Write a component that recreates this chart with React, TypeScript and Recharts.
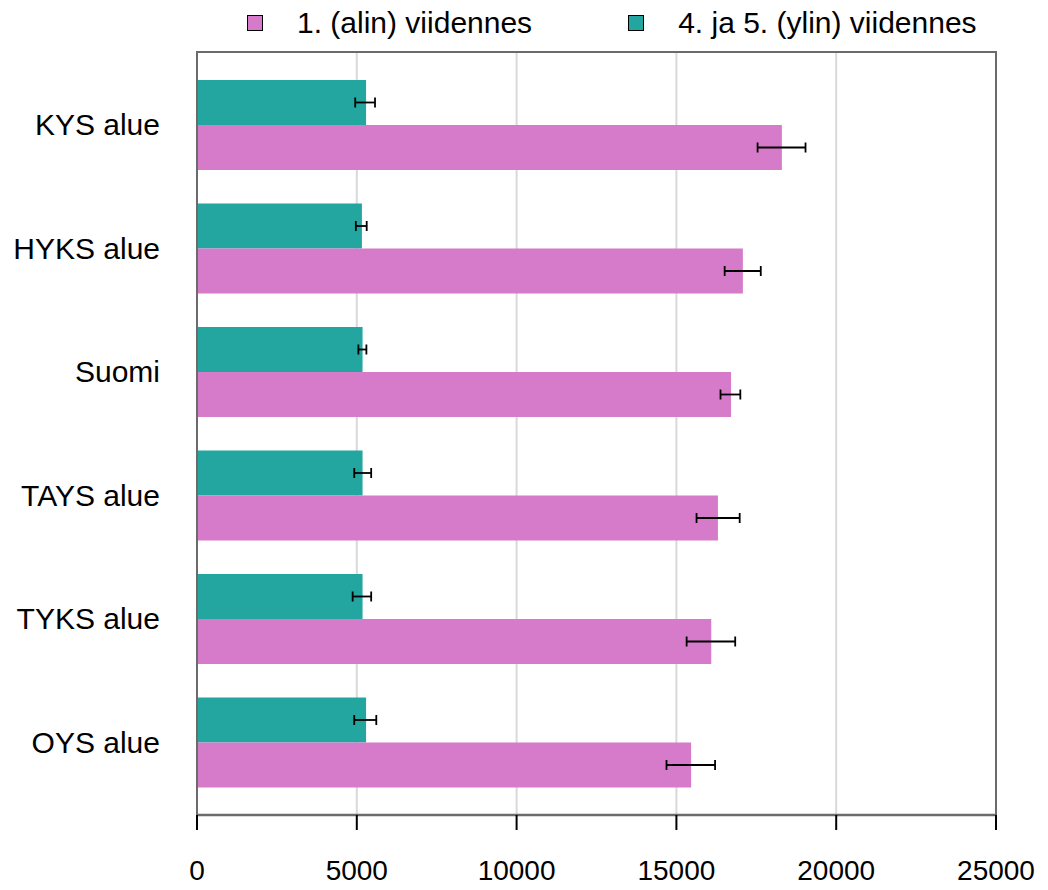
import React from 'react';
import { BarChart, Bar, XAxis, YAxis, CartesianGrid, ErrorBar } from 'recharts';

const regions = ['KYS alue', 'HYKS alue', 'Suomi', 'TAYS alue', 'TYKS alue', 'OYS alue'];

// 1. (alin) viidennes
const lowest = [18300, 17080, 16710, 16300, 16090, 15460];
const lowestLo = [17540, 16510, 16380, 15630, 15320, 14690];
const lowestHi = [19040, 17640, 17000, 16980, 16840, 16210];

// 4. ja 5. (ylin) viidennes
const highest = [5290, 5160, 5180, 5180, 5180, 5290];
const highestLo = [4950, 4970, 5050, 4920, 4870, 4920];
const highestHi = [5570, 5310, 5300, 5450, 5450, 5610];

const xTicks = [0, 5000, 10000, 15000, 20000, 25000];

const seriesNames = ['1. (alin) viidennes', '4. ja 5. (ylin) viidennes'];
const PINK = '#d67bc9';
const TEAL = '#23a6a0';
const FRAME = '#6b6b6b';
const FONT = '"Liberation Sans", Arial, sans-serif';

const MARGIN = { top: 52, right: 52, bottom: 0, left: 0 };
const Y_WIDTH = 197;
const X_HEIGHT = 75;
const W = 1048;
const H = 890;

const data = regions.map((name, i) => ({
  name,
  lowest: lowest[i],
  lowestErr: [lowest[i] - lowestLo[i], lowestHi[i] - lowest[i]],
  highest: highest[i],
  highestErr: [highest[i] - highestLo[i], highestHi[i] - highest[i]],
}));

function Legend() {
  const items = [
    { label: seriesNames[0], color: PINK, ml: 247 },
    { label: seriesNames[1], color: TEAL, ml: 96 },
  ];
  return (
    <div
      style={{
        position: 'absolute',
        top: 0,
        left: 0,
        height: 46,
        display: 'flex',
        alignItems: 'center',
        fontFamily: FONT,
        fontSize: 30,
        lineHeight: 1,
        color: '#000',
      }}
    >
      {items.map((it) => (
        <div key={it.label} style={{ display: 'flex', alignItems: 'center', marginLeft: it.ml }}>
          <span
            style={{
              display: 'inline-block',
              width: 16,
              height: 16,
              boxSizing: 'border-box',
              background: it.color,
              border: '1.5px solid #000',
              marginRight: 34,
            }}
          />
          <span style={{ whiteSpace: 'nowrap' }}>{it.label}</span>
        </div>
      ))}
    </div>
  );
}

export default function App() {
  // top and right edges of the plot frame
  const plotLeft = MARGIN.left + Y_WIDTH;
  const plotW = W - plotLeft - MARGIN.right;
  const plotH = H - MARGIN.top - MARGIN.bottom - X_HEIGHT;
  return (
    <div style={{ position: 'absolute', top: 0, left: 0, width: W, height: H, background: '#fff' }}>
      <Legend />
      <BarChart width={W} height={H} data={data} layout="vertical" margin={MARGIN} barSize={45} barGap={0}>
        <CartesianGrid horizontal={false} stroke="#d9d9d9" strokeWidth={2} />
        <XAxis
          type="number"
          domain={[0, 25000]}
          ticks={xTicks}
          height={X_HEIGHT}
          tickSize={15}
          tickMargin={30}
          axisLine={{ stroke: FRAME, strokeWidth: 2.5 }}
          tickLine={{ stroke: '#000', strokeWidth: 2 }}
          tick={{ fill: '#000', fontSize: 28, fontFamily: FONT }}
          interval={0}
        />
        <YAxis
          type="category"
          dataKey="name"
          width={Y_WIDTH}
          padding={{ top: 11, bottom: 11 }}
          axisLine={{ stroke: FRAME, strokeWidth: 2 }}
          tickLine={false}
          tickSize={6}
          tickMargin={31}
          tick={{ fill: '#000', fontSize: 30, fontFamily: FONT }}
          interval={0}
        />
        <Bar dataKey="highest" name={seriesNames[1]} fill={TEAL} isAnimationActive={false}>
          <ErrorBar dataKey="highestErr" direction="x" width={5} stroke="#000" strokeWidth={1.8} />
        </Bar>
        <Bar dataKey="lowest" name={seriesNames[0]} fill={PINK} isAnimationActive={false}>
          <ErrorBar dataKey="lowestErr" direction="x" width={5} stroke="#000" strokeWidth={1.8} />
        </Bar>
      </BarChart>
      <div
        style={{
          position: 'absolute',
          left: plotLeft - 1,
          top: MARGIN.top - 1,
          width: plotW + 2,
          height: plotH + 1,
          boxSizing: 'border-box',
          borderTop: `2px solid ${FRAME}`,
          borderRight: `2px solid ${FRAME}`,
          pointerEvents: 'none',
        }}
      />
    </div>
  );
}
